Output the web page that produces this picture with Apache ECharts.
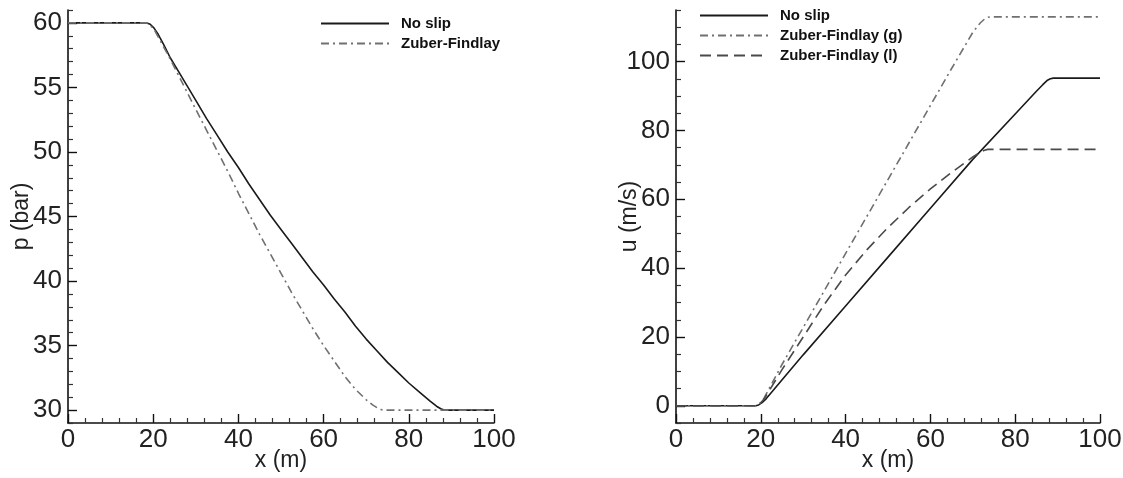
<!DOCTYPE html>
<html>
<head>
<meta charset="utf-8">
<script src="https://cdn.jsdelivr.net/npm/echarts@6/dist/echarts.min.js"></script>
<style>
  html, body { margin: 0; padding: 0; background: #fff; }
  #chart { width: 1123px; height: 478px; }
</style>
</head>
<body>
<div id="chart"></div>
<script>
// ---------- Data ----------
// Left panel: pressure p (bar) vs x (m)
const pNoSlipX = [0, 18.5, 19.3, 20.2, 21.2, 22.5, 24, 26, 28, 30, 32.5, 35, 37.5, 40, 42.5, 45, 47.5, 50, 52.5, 55, 57.5, 60, 62.5, 65, 67.5, 70, 72.5, 75, 77.5, 80, 82.5, 85, 86.5, 87.5, 88.3, 100];
const pNoSlipY = [60, 60, 59.9, 59.6, 59.1, 58.3, 57.3, 56.2, 55.1, 54.0, 52.6, 51.3, 50.0, 48.8, 47.5, 46.3, 45.1, 44.0, 42.9, 41.8, 40.7, 39.7, 38.6, 37.6, 36.5, 35.5, 34.6, 33.7, 32.9, 32.1, 31.4, 30.7, 30.3, 30.1, 30, 30];
const pZFX = [0, 18.5, 19.3, 20.2, 21.2, 22.5, 24, 26, 28, 30, 32.5, 35, 37.5, 40, 42.5, 45, 47.5, 50, 52.5, 55, 57.5, 60, 62.5, 65, 67.5, 70, 71.5, 72.7, 73.6, 74.3, 100];
const pZFY = [60, 60, 59.8, 59.5, 58.9, 58.1, 57.2, 55.9, 54.6, 53.3, 51.7, 50.1, 48.5, 46.8, 45.2, 43.6, 42.1, 40.6, 39.1, 37.7, 36.3, 35.0, 33.8, 32.6, 31.6, 30.8, 30.4, 30.15, 30.03, 30, 30];

// Right panel: velocity u (m/s) vs x (m)
const uNoSlipX = [0, 18.8, 19.5, 20.3, 21.3, 30, 40, 50, 60, 70, 80, 85, 86.5, 87.5, 88.3, 89, 100];
const uNoSlipY = [0, 0, 0.25, 0.9, 2.1, 14.8, 29.0, 43.2, 57.4, 71.6, 84.8, 91.4, 93.3, 94.5, 95.0, 95.2, 95.2];
const uZFgX = [0, 18.8, 19.4, 20.0, 20.8, 25, 35, 45, 55, 65, 70, 71.8, 72.8, 73.6, 74.3, 100];
const uZFgY = [0, 0, 0.3, 1.0, 2.3, 12.0, 33.5, 55.0, 76.5, 98.0, 108.5, 111.3, 112.4, 112.9, 113, 113];
const uZFlX = [0, 18.8, 19.4, 20.0, 20.8, 25, 30, 35, 40, 45, 50, 55, 60, 65, 68, 70, 71.5, 72.6, 73.5, 100];
const uZFlY = [0, 0, 0.3, 0.9, 2.0, 10.5, 20.0, 29.5, 38.0, 45.3, 51.8, 57.7, 63.0, 67.8, 70.5, 72.3, 73.5, 74.2, 74.5, 74.5];

// Tick labels
const xMajor = [0, 20, 40, 60, 80, 100];
const pMajor = [30, 35, 40, 45, 50, 55, 60];
const uMajor = [0, 20, 40, 60, 80, 100];

// Minor tick positions
const xMinor = []; for (let v = 0; v <= 100; v += 4) if (v % 20 !== 0) xMinor.push(v);
const pMinor = []; for (let v = 29; v <= 61; v += 1) if (v % 5 !== 0) pMinor.push(v);
const uMinor = []; for (let v = -5; v <= 115; v += 5) if (v % 20 !== 0) uMinor.push(v);

// ---------- Chart ----------
const FONT = 'Liberation Sans, Arial, Helvetica, sans-serif';
const pairs = (xs, ys) => xs.map((x, i) => [x, ys[i]]);

function majorAxis(dim, gridIndex, min, max, ticks, name, nameGap) {
  return {
    type: 'value', gridIndex, min, max,
    position: dim === 'x' ? 'bottom' : 'left',
    name, nameLocation: 'middle', nameGap, nameMoveOverlap: false,
    nameTextStyle: { fontFamily: FONT, fontSize: 23, color: '#222' },
    axisLine: { show: true, onZero: false, lineStyle: { color: '#111', width: 1.6 } },
    axisTick: { show: true, inside: true, length: 9, customValues: ticks, lineStyle: { color: '#111', width: 1.4 } },
    axisLabel: { show: true, customValues: ticks, fontFamily: FONT, fontSize: 26, color: '#222', margin: dim === 'x' ? 4 : 6, hideOverlap: false },
    splitLine: { show: false }
  };
}
function minorAxis(dim, gridIndex, min, max, ticks) {
  return {
    type: 'value', gridIndex, min, max,
    position: dim === 'x' ? 'bottom' : 'left',
    axisLine: { show: false, onZero: false },
    axisTick: { show: true, inside: true, length: 5, customValues: ticks, lineStyle: { color: '#333', width: 1.2 } },
    axisLabel: { show: false },
    splitLine: { show: false }
  };
}

const legendText = { fontFamily: FONT, fontSize: 15, fontWeight: 'bold', color: '#111', padding: [0, 0, 0, 7] };

const chart = echarts.init(document.getElementById('chart'), null, { renderer: 'canvas' });
chart.setOption({
  animation: false,
  backgroundColor: '#fff',
  grid: [
    { left: 68, right: 629, top: 10, bottom: 55, containLabel: false, outerBoundsMode: 'none' },
    { left: 676, right: 23, top: 10, bottom: 55, containLabel: false, outerBoundsMode: 'none' }
  ],
  xAxis: [
    majorAxis('x', 0, 0, 100, xMajor, 'x (m)', 26),
    minorAxis('x', 0, 0, 100, xMinor),
    majorAxis('x', 1, 0, 100, xMajor, 'x (m)', 26),
    minorAxis('x', 1, 0, 100, xMinor)
  ],
  yAxis: [
    majorAxis('y', 0, 29, 61, pMajor, 'p (bar)', 35),
    minorAxis('y', 0, 29, 61, pMinor),
    majorAxis('y', 1, -5, 115, uMajor, 'u (m/s)', 35),
    minorAxis('y', 1, -5, 115, uMinor)
  ],
  legend: [
    {
      left: 320, top: 16, orient: 'vertical', padding: 0, itemWidth: 68, itemHeight: 14, itemGap: 5,
      data: ['No slip', 'Zuber-Findlay'],
      itemStyle: { opacity: 0, color: 'rgba(0,0,0,0)', borderWidth: 0 },
      textStyle: legendText
    },
    {
      left: 699, top: 8, orient: 'vertical', padding: 0, itemWidth: 68, itemHeight: 14, itemGap: 5,
      data: ['No slip ', 'Zuber-Findlay (g)', 'Zuber-Findlay (l)'],
      formatter: n => n.trim(),
      itemStyle: { opacity: 0, color: 'rgba(0,0,0,0)', borderWidth: 0 },
      textStyle: legendText
    }
  ],
  series: [
    { name: 'No slip', type: 'line', xAxisIndex: 0, yAxisIndex: 0, data: pairs(pNoSlipX, pNoSlipY),
      showSymbol: false, symbol: 'none', lineStyle: { color: '#1a1a1a', width: 1.6, type: 'solid' }, itemStyle: { color: '#1a1a1a' } },
    { name: 'Zuber-Findlay', type: 'line', xAxisIndex: 0, yAxisIndex: 0, data: pairs(pZFX, pZFY),
      showSymbol: false, symbol: 'none', lineStyle: { color: '#707070', width: 1.6, type: [8, 4, 2, 4] }, itemStyle: { color: '#707070' } },
    { name: 'No slip ', type: 'line', xAxisIndex: 2, yAxisIndex: 2, data: pairs(uNoSlipX, uNoSlipY),
      showSymbol: false, symbol: 'none', lineStyle: { color: '#1a1a1a', width: 1.6, type: 'solid' }, itemStyle: { color: '#1a1a1a' } },
    { name: 'Zuber-Findlay (g)', type: 'line', xAxisIndex: 2, yAxisIndex: 2, data: pairs(uZFgX, uZFgY),
      showSymbol: false, symbol: 'none', lineStyle: { color: '#707070', width: 1.6, type: [8, 4, 2, 4] }, itemStyle: { color: '#707070' } },
    { name: 'Zuber-Findlay (l)', type: 'line', xAxisIndex: 2, yAxisIndex: 2, data: pairs(uZFlX, uZFlY),
      showSymbol: false, symbol: 'none', lineStyle: { color: '#4a4a4a', width: 1.6, type: [11, 6] }, itemStyle: { color: '#4a4a4a' } }
  ]
});
</script>
</body>
</html>
